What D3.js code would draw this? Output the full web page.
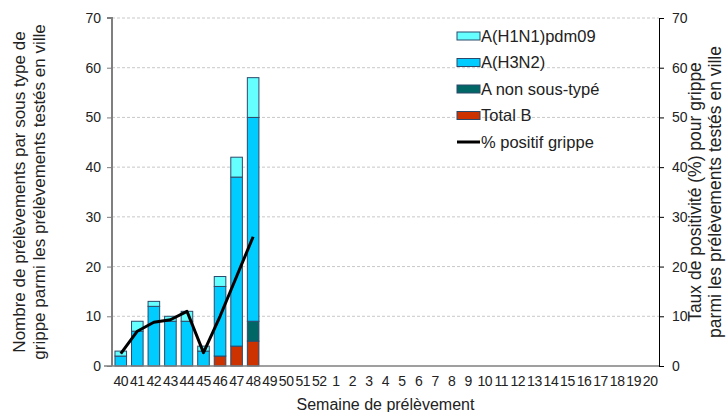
<!DOCTYPE html>
<html>
<head>
<meta charset="utf-8">
<script src="https://cdn.jsdelivr.net/npm/d3@7"></script>
<style>
  html, body { margin: 0; padding: 0; background: #fff; }
  svg { display: block; font-family: "Liberation Sans", Arial, sans-serif; }
</style>
</head>
<body>
<svg id="chart" width="727" height="412"></svg>
<script>
// Surveillance weeks: 40..52 then 1..20
const weeks = ["40","41","42","43","44","45","46","47","48","49","50","51","52",
  "1","2","3","4","5","6","7","8","9","10","11","12","13","14","15","16","17","18","19","20"];

// Weeks that have results so far
const dataWeeks = ["40","41","42","43","44","45","46","47","48"];
const totalB       = [0, 0, 0, 0, 0, 0, 2, 4, 5];
const aNonSousType = [0, 0, 0, 0, 0, 0, 0, 0, 4];
const aH3N2        = [2, 7, 12, 9, 9, 3, 14, 34, 41];
const aH1N1        = [1, 2, 1, 1, 2, 1, 2, 4, 8];
const pctPositif   = [2.5, 7, 8.8, 9.3, 11, 2.7, 10, 18, 26];

const yTicks = [0, 10, 20, 30, 40, 50, 60, 70];

const seriesDefs = [
  { key: "totalB", label: "Total B", color: "#CC3300", values: totalB },
  { key: "aNST", label: "A non sous-typé", color: "#006666", values: aNonSousType },
  { key: "h3n2", label: "A(H3N2)", color: "#00CCFF", values: aH3N2 },
  { key: "h1n1", label: "A(H1N1)pdm09", color: "#66FFFF", values: aH1N1 }
];

const rows = dataWeeks.map((w, i) => {
  const r = { week: w };
  seriesDefs.forEach(s => { r[s.key] = s.values[i]; });
  return r;
});

const svg = d3.select("#chart");
const margin = { left: 112, right: 68, top: 18, bottom: 46 };
const W = 727, H = 412;
const x0 = margin.left, x1 = W - margin.right;
const yBottom = H - margin.bottom, yTop = margin.top;

const x = d3.scaleBand().domain(weeks).range([x0, x1]).paddingInner(0.3).paddingOuter(0.18);
const y = d3.scaleLinear().domain([0, 70]).range([yBottom, yTop]);
const y2 = d3.scaleLinear().domain([0, 70]).range([yBottom, yTop]);

// Grid lines
svg.append("g")
  .selectAll("line")
  .data(yTicks.filter(t => t > 0))
  .join("line")
  .attr("x1", x0).attr("x2", x1)
  .attr("y1", d => y(d)).attr("y2", d => y(d))
  .attr("stroke", "#c8c8c8")
  .attr("stroke-width", 1)
  .attr("stroke-dasharray", "3,2");

// Stacked bars
const stack = d3.stack().keys(seriesDefs.map(s => s.key));
const stacked = stack(rows);
const gBars = svg.append("g");
stacked.forEach((layer, li) => {
  gBars.append("g")
    .attr("fill", seriesDefs[li].color)
    .selectAll("rect")
    .data(layer.filter(d => d[1] - d[0] > 0))
    .join("rect")
    .attr("x", d => x(d.data.week))
    .attr("width", x.bandwidth())
    .attr("y", d => y(d[1]))
    .attr("height", d => y(d[0]) - y(d[1]))
    .attr("stroke", "#2b4a6b")
    .attr("stroke-width", 1);
});

// Left axis
const leftAxis = svg.append("g")
  .attr("transform", `translate(${x0},0)`)
  .call(d3.axisLeft(y).tickValues(yTicks).tickSize(5).tickPadding(6));
leftAxis.select(".domain").attr("stroke", "#7f7f7f").attr("stroke-width", 2)
  .attr("d", `M-5,${y(70)}H0V${yBottom}`);
leftAxis.selectAll(".tick line").attr("stroke", "#7f7f7f");
leftAxis.selectAll(".tick text").attr("font-size", 14).attr("fill", "#222")
  .attr("font-family", "Liberation Sans, Arial, sans-serif");

// Right axis
const rightAxis = svg.append("g")
  .attr("transform", `translate(${x1},0)`)
  .call(d3.axisRight(y2).tickValues(yTicks).tickSize(5).tickPadding(8));
rightAxis.select(".domain").attr("stroke", "#000").attr("stroke-width", 1);
rightAxis.selectAll(".tick line").attr("stroke", "#000");
rightAxis.selectAll(".tick text").attr("font-size", 14).attr("fill", "#222")
  .attr("font-family", "Liberation Sans, Arial, sans-serif");

// Bottom axis
const bottomAxis = svg.append("g")
  .attr("transform", `translate(0,${yBottom})`)
  .call(d3.axisBottom(x).tickSize(0).tickPadding(10));
bottomAxis.select(".domain").attr("stroke", "#7f7f7f").attr("stroke-width", 1.5)
  .attr("d", `M${x0 - 8},0H${x1}`);
bottomAxis.selectAll(".tick text").attr("font-size", 14).attr("fill", "#222")
  .attr("letter-spacing", "-0.4px")
  .attr("font-family", "Liberation Sans, Arial, sans-serif");

// Positivity line
const line = d3.line()
  .x((d, i) => x(dataWeeks[i]) + x.bandwidth() / 2)
  .y(d => y2(d));
svg.append("path")
  .datum(pctPositif)
  .attr("d", line)
  .attr("fill", "none")
  .attr("stroke", "#000")
  .attr("stroke-width", 3)
  .attr("stroke-linejoin", "round");

// Axis titles
const leftTitle = svg.append("text")
  .attr("transform", `translate(25,${(yTop + yBottom) / 2}) rotate(-90)`)
  .attr("text-anchor", "middle")
  .attr("font-size", 17)
  .attr("fill", "#222");
leftTitle.append("tspan").attr("x", 0).attr("dy", 0).text("Nombre de prélèvements par sous type de");
leftTitle.append("tspan").attr("x", 0).attr("dy", 19.5).text("grippe parmi les prélèvements testés en ville");

const rightTitle = svg.append("text")
  .attr("transform", `translate(701,${(yTop + yBottom) / 2}) rotate(-90)`)
  .attr("text-anchor", "middle")
  .attr("font-size", 17.5)
  .attr("fill", "#222");
rightTitle.append("tspan").attr("x", 0).attr("dy", 0).text("Taux de positivité (%) pour grippe");
rightTitle.append("tspan").attr("x", 0).attr("dy", 20).text("parmi les prélèvements testés en ville");

svg.append("text")
  .attr("x", (x0 + x1) / 2)
  .attr("y", 410)
  .attr("text-anchor", "middle")
  .attr("font-size", 16)
  .attr("fill", "#222")
  .text("Semaine de prélèvement");

// Legend
const legendItems = [
  { label: "A(H1N1)pdm09", color: "#66FFFF", type: "rect" },
  { label: "A(H3N2)", color: "#00CCFF", type: "rect" },
  { label: "A non sous-typé", color: "#006666", type: "rect" },
  { label: "Total B", color: "#CC3300", type: "rect" },
  { label: "% positif grippe", color: "#000", type: "line" }
];
const legend = svg.append("g").attr("transform", "translate(457,36)");
legendItems.forEach((it, i) => {
  const g = legend.append("g").attr("transform", `translate(0,${i * 26.5})`);
  if (it.type === "rect") {
    g.append("rect").attr("x", 0).attr("y", -4).attr("width", 23).attr("height", 8)
      .attr("fill", it.color).attr("stroke", "#2b4a6b").attr("stroke-width", 1);
  } else {
    g.append("line").attr("x1", 0).attr("x2", 23).attr("y1", 0).attr("y2", 0)
      .attr("stroke", it.color).attr("stroke-width", 3);
  }
  g.append("text").attr("x", 24).attr("y", 0).attr("dy", "0.36em")
    .attr("font-size", 16.5).attr("fill", "#222").text(it.label);
});
</script>
</body>
</html>
